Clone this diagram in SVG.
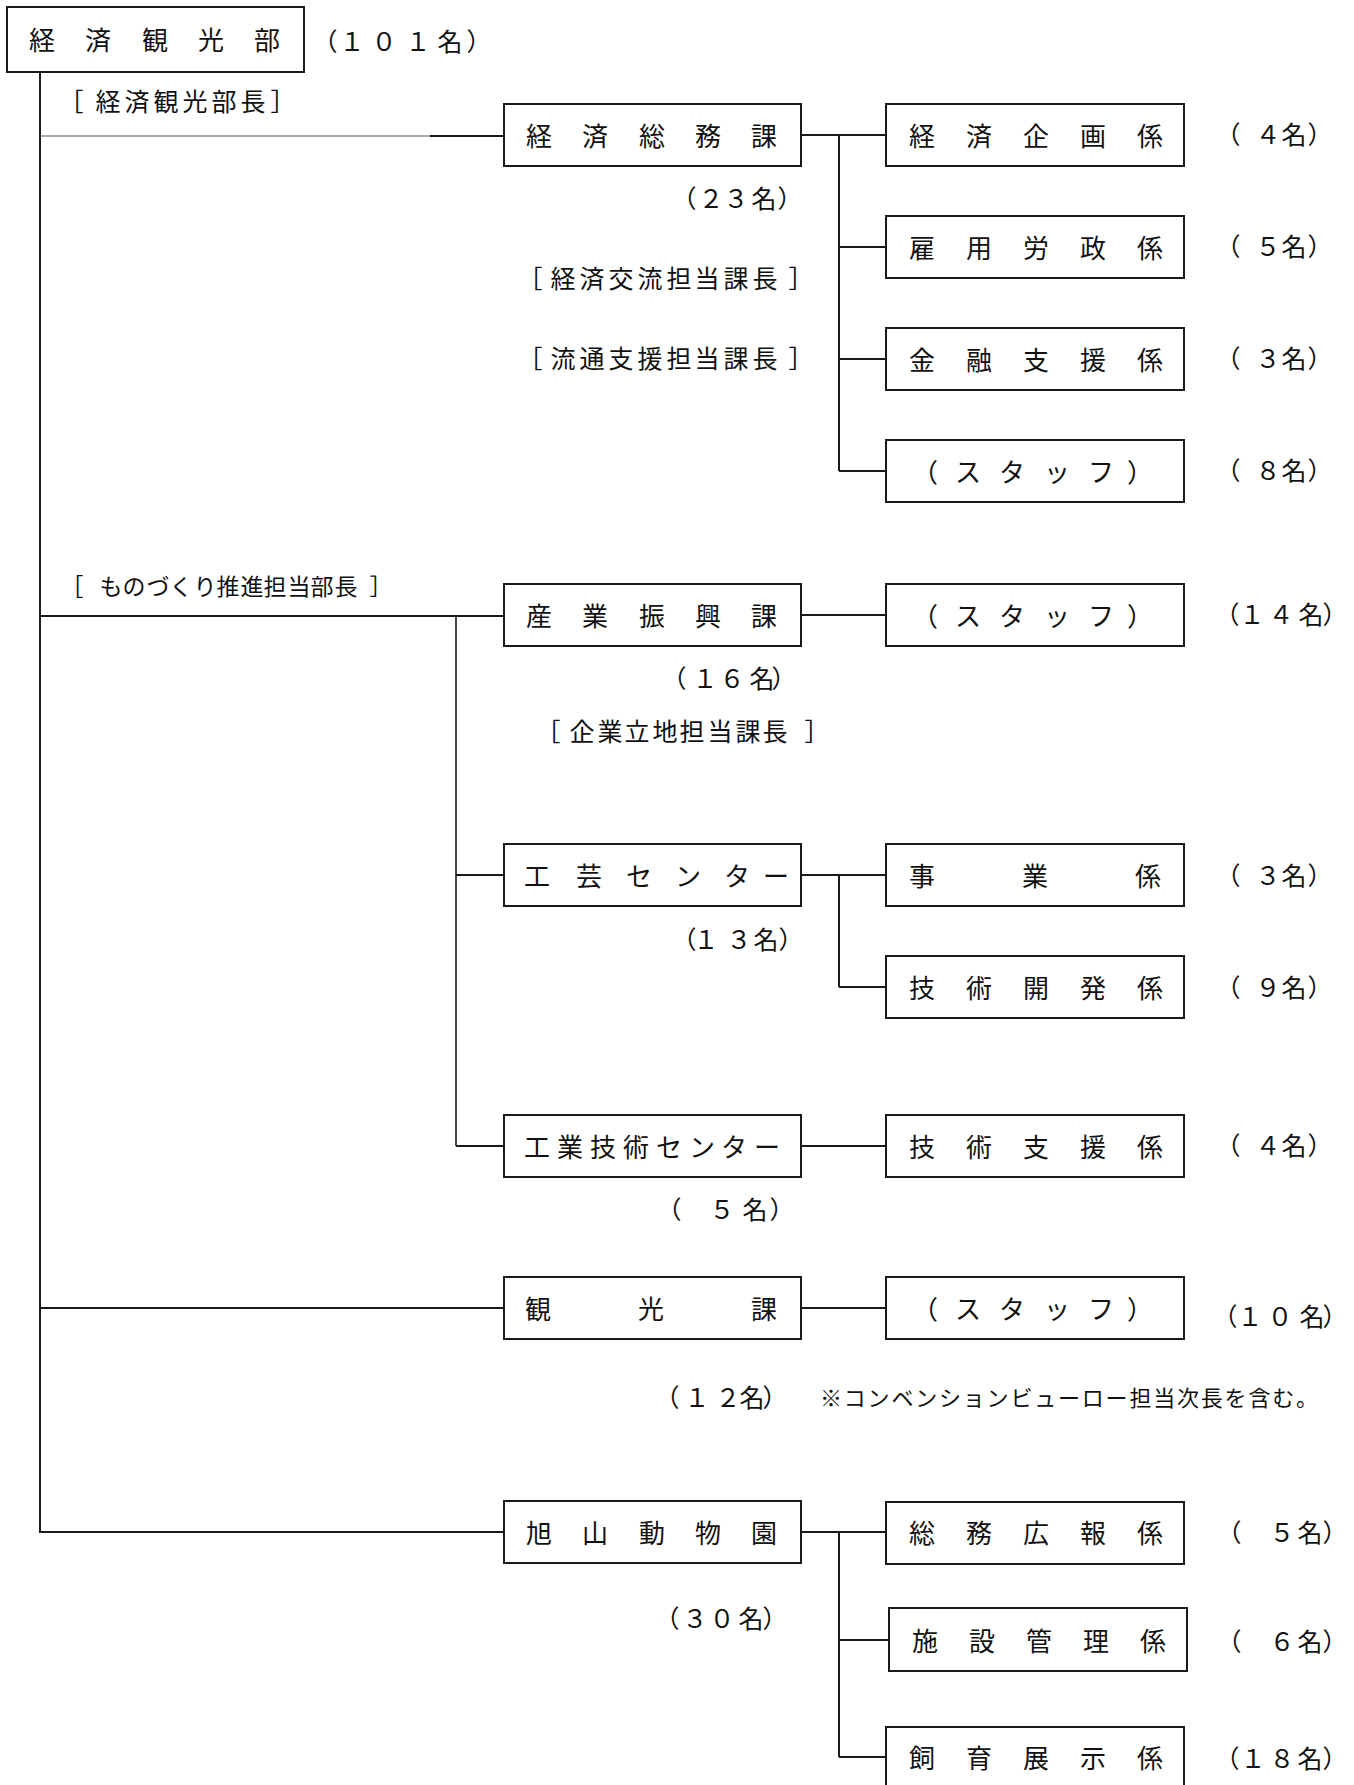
<svg xmlns="http://www.w3.org/2000/svg" width="1354" height="1785" viewBox="0 0 1354 1785">
<style>
.box{fill:#fff;stroke:#1a1a1a;stroke-width:2}
.ln{stroke:#1a1a1a;stroke-width:2;fill:none}
.thin{stroke:#555;stroke-width:1.2;fill:none}
text{font-family:"Noto Sans CJK JP","Noto Sans CJK SC",sans-serif;fill:#111;text-anchor:middle;dominant-baseline:central;font-weight:400}
.b{font-size:26px}
.c{font-size:25px}
.k{font-size:25px}
.s{font-size:23px}
.n{font-size:22px;text-anchor:start}
</style>
<rect width="1354" height="1785" fill="#fff"/>
<g id="connectors">
<line class="ln" x1="40" y1="72" x2="40" y2="1533"/>
<line class="thin" x1="40" y1="136" x2="430" y2="136"/>
<line class="ln" x1="430" y1="136" x2="504" y2="136"/>
<line class="ln" x1="801" y1="135" x2="886" y2="135"/>
<line class="ln" x1="839" y1="135" x2="839" y2="471"/>
<line class="ln" x1="839" y1="247" x2="886" y2="247"/>
<line class="ln" x1="839" y1="359" x2="886" y2="359"/>
<line class="ln" x1="839" y1="471" x2="886" y2="471"/>
<line class="ln" x1="40" y1="616" x2="504" y2="616"/>
<line class="ln" x1="456" y1="616" x2="456" y2="1146" style="stroke-width:1.6"/>
<line class="ln" x1="801" y1="615" x2="886" y2="615"/>
<line class="ln" x1="456" y1="875" x2="504" y2="875"/>
<line class="ln" x1="801" y1="875" x2="886" y2="875"/>
<line class="ln" x1="839" y1="875" x2="839" y2="987"/>
<line class="ln" x1="839" y1="987" x2="886" y2="987"/>
<line class="ln" x1="456" y1="1146" x2="504" y2="1146"/>
<line class="ln" x1="801" y1="1146" x2="886" y2="1146"/>
<line class="ln" x1="40" y1="1308" x2="504" y2="1308"/>
<line class="ln" x1="801" y1="1308" x2="886" y2="1308"/>
<line class="ln" x1="40" y1="1532" x2="504" y2="1532"/>
<line class="ln" x1="801" y1="1532" x2="886" y2="1532"/>
<line class="ln" x1="839" y1="1532" x2="839" y2="1757"/>
<line class="ln" x1="839" y1="1640" x2="889" y2="1640"/>
<line class="ln" x1="839" y1="1757" x2="886" y2="1757"/>
</g>
<g id="keizai-kanko-bu">
<rect class="box" x="7" y="7" width="297" height="65"/>
<text class="b" x="42 98 155 211 267" y="38">経済観光部</text>
<text class="c" x="325 352 384 418 450 479" y="40">（１０１名）</text>
<text class="k" x="71 90 108 137 166 195 224 253 268 283" y="100">［ 経済観光部長 ］</text>
</g>
<g id="keizai-somu-ka">
<rect class="box" x="504" y="104" width="297" height="62"/>
<text class="b" x="539 595 652 708 764" y="134">経済総務課</text>
<text class="c" x="684 711 736 764 790" y="197">（２３名）</text>
<text class="k" x="530 548 563 592 621 650 679 707 736 765 780 801" y="277">［ 経済交流担当課長 ］</text>
<text class="k" x="530 548 563 592 621 650 679 707 736 765 780 801" y="357">［ 流通支援担当課長 ］</text>
</g>
<g id="keizai-kikaku-kakari">
<rect class="box" x="886" y="104" width="298" height="62"/>
<text class="b" x="922 979 1036 1093 1150" y="134">経済企画係</text>
<text class="c" x="1228 1250 1268 1294 1320" y="133">（ ４名）</text>
</g>
<g id="koyo-rosei-kakari">
<rect class="box" x="886" y="216" width="298" height="62"/>
<text class="b" x="922 979 1036 1093 1150" y="246">雇用労政係</text>
<text class="c" x="1228 1250 1268 1294 1320" y="245">（ ５名）</text>
</g>
<g id="kinyu-shien-kakari">
<rect class="box" x="886" y="328" width="298" height="62"/>
<text class="b" x="922 979 1036 1093 1150" y="358">金融支援係</text>
<text class="c" x="1228 1250 1268 1294 1320" y="357">（ ３名）</text>
</g>
<g id="staff-somu">
<rect class="box" x="886" y="440" width="298" height="62"/>
<text class="b" x="925 968 1012 1057 1101 1140" y="470">（スタッフ）</text>
<text class="c" x="1228 1250 1268 1294 1320" y="469">（ ８名）</text>
</g>
<g id="monozukuri-label">
<text class="s" x="72 92 111 134 158 181 205 228 252 275 299 322 346 362 381" y="585">［ ものづくり推進担当部長 ］</text>
</g>
<g id="sangyo-shinko-ka">
<rect class="box" x="504" y="584" width="297" height="62"/>
<text class="b" x="539 595 652 708 764" y="614">産業振興課</text>
<text class="c" x="674 705 732 762 784" y="677">（１６名）</text>
<text class="k" x="548 566 582 610 637 665 692 720 748 775 793 817" y="730">［ 企業立地担当課長 ］</text>
</g>
<g id="staff-sangyo">
<rect class="box" x="886" y="584" width="298" height="62"/>
<text class="b" x="925 968 1012 1057 1101 1140" y="614">（スタッフ）</text>
<text class="c" x="1227 1252 1281 1311 1335" y="613">（１４名）</text>
</g>
<g id="kogei-center">
<rect class="box" x="504" y="844" width="297" height="62"/>
<text class="b" x="537 589 639 688 737 776" y="874">工芸センター</text>
<text class="c" x="684 706 739 766 791" y="938">（１３名）</text>
</g>
<g id="jigyo-kakari">
<rect class="box" x="886" y="844" width="298" height="62"/>
<text class="b" x="922 1035 1148" y="874">事業係</text>
<text class="c" x="1228 1250 1268 1294 1320" y="874">（ ３名）</text>
</g>
<g id="gijutsu-kaihatsu-kakari">
<rect class="box" x="886" y="956" width="298" height="62"/>
<text class="b" x="922 979 1036 1093 1150" y="986">技術開発係</text>
<text class="c" x="1228 1250 1268 1294 1320" y="986">（ ９名）</text>
</g>
<g id="kogyo-gijutsu-center">
<rect class="box" x="504" y="1115" width="297" height="62"/>
<text class="b" x="537 570 603 636 669 702 734 767" y="1145">工業技術センター</text>
<text class="c" x="669 695 722 755 782" y="1208">（　５名）</text>
</g>
<g id="gijutsu-shien-kakari">
<rect class="box" x="886" y="1115" width="298" height="62"/>
<text class="b" x="922 979 1036 1093 1150" y="1145">技術支援係</text>
<text class="c" x="1228 1250 1268 1294 1320" y="1144">（ ４名）</text>
</g>
<g id="kanko-ka">
<rect class="box" x="504" y="1277" width="297" height="62"/>
<text class="b" x="538 651 764" y="1307">観光課</text>
<text class="c" x="667 697 728 752 775" y="1396">（１２名）</text>
<text class="n" x="820" y="1396" textLength="498" lengthAdjust="spacing">※コンベンションビューロー担当次長を含む。</text>
</g>
<g id="staff-kanko">
<rect class="box" x="886" y="1277" width="298" height="62"/>
<text class="b" x="925 968 1012 1057 1101 1140" y="1307">（スタッフ）</text>
<text class="c" x="1225 1250 1280 1312 1335" y="1315">（１０名）</text>
</g>
<g id="asahiyama-zoo">
<rect class="box" x="504" y="1501" width="297" height="62"/>
<text class="b" x="539 595 652 708 764" y="1531">旭山動物園</text>
<text class="c" x="667 695 722 751 775" y="1617">（３０名）</text>
</g>
<g id="somu-koho-kakari">
<rect class="box" x="886" y="1502" width="298" height="62"/>
<text class="b" x="922 979 1036 1093 1150" y="1531">総務広報係</text>
<text class="c" x="1229 1255 1282 1310 1335" y="1531">（　５名）</text>
</g>
<g id="shisetsu-kanri-kakari">
<rect class="box" x="889" y="1608" width="298" height="63"/>
<text class="b" x="925 982 1039 1096 1153" y="1639">施設管理係</text>
<text class="c" x="1229 1255 1282 1310 1335" y="1640">（　６名）</text>
</g>
<g id="shiiku-tenji-kakari">
<rect class="box" x="886" y="1727" width="298" height="62"/>
<text class="b" x="922 979 1036 1093 1150" y="1756">飼育展示係</text>
<text class="c" x="1227 1253 1282 1310 1335" y="1757">（１８名）</text>
</g>
</svg>
